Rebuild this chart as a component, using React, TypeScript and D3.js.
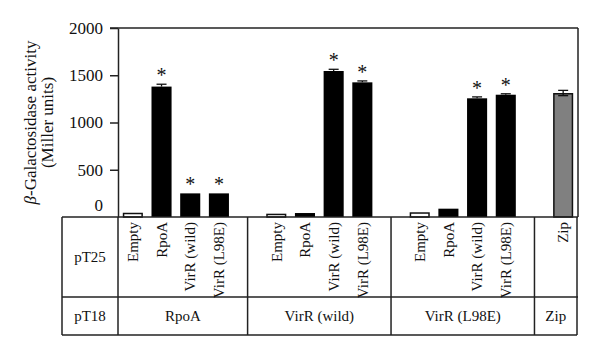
import React, { useEffect, useRef } from "react";
import * as d3 from "d3";

const pT25Labels = [
  "Empty", "RpoA", "VirR (wild)", "VirR (L98E)",
  "Empty", "RpoA", "VirR (wild)", "VirR (L98E)",
  "Empty", "RpoA", "VirR (wild)", "VirR (L98E)",
  "Zip",
];
const slotIndex = [0, 1, 2, 3, 5, 6, 7, 8, 10, 11, 12, 13, 15];
const values = [45, 1380, 250, 250, 35, 42, 1545, 1425, 50, 88, 1256, 1294, 1312];
const errors = [0, 25, 0, 0, 0, 0, 18, 15, 0, 0, 15, 10, 28];
const significant = [false, true, true, true, false, false, true, true, false, false, true, true, false];
const barKind = ["empty", "black", "black", "black", "empty", "black", "black", "black", "empty", "black", "black", "black", "gray"];
const pT18Groups = ["RpoA", "VirR (wild)", "VirR (L98E)", "Zip"];
const groupSlotRanges = [[-0.5, 4], [4, 9], [9, 14], [14, 15.5]];
const yTicks = [0, 500, 1000, 1500, 2000];

const W = 600, H = 357;
const left = 118, right = 578, top = 28, bottom = 217;
const tableLeft = 62, rowDiv = 297, tableBottom = 335;
const font = "'Liberation Serif', 'Times New Roman', serif";
const lineColor = "#222";

export default function App() {
  const axisRef = useRef<SVGGElement>(null);
  const x = d3.scaleBand<number>().domain(d3.range(16)).range([left + 0.5, right - 0.5]).paddingInner(0.3).paddingOuter(0.15);
  const y = d3.scaleLinear().domain([0, 2000]).range([bottom, top]);
  const cx = (s: number) => (x(Math.floor(s)) as number) + x.bandwidth() / 2 + (s - Math.floor(s)) * x.step();
  const slotX = (s: number) => {
    if (s <= -0.5) return left;
    if (s >= 15.5) return right - 1;
    return cx(s);
  };

  useEffect(() => {
    if (!axisRef.current) return;
    const g = d3.select(axisRef.current);
    g.selectAll("*").remove();
    g.call(d3.axisLeft(y).tickValues(yTicks).tickSize(8).tickPadding(7).tickSizeOuter(0).tickFormat(d3.format("d")));
    g.select(".domain").attr("stroke", lineColor).attr("stroke-width", 1.5);
    g.selectAll(".tick line").attr("stroke", lineColor).attr("stroke-width", 1.5);
    g.selectAll(".tick text").attr("font-family", font).attr("font-size", 17).attr("fill", "#111");
    g.selectAll<SVGGElement, number>(".tick").filter((d) => d === 0).select("line").remove();
    g.selectAll<SVGGElement, number>(".tick").filter((d) => d === 0).select("text").attr("dy", "-0.4em");
  }, []);

  return (
    <svg width={W} height={H} style={{ position: "absolute", left: 0, top: 0, background: "#fff" }}>
      {/* frame */}
      <line x1={left - 8} x2={right} y1={top} y2={top} stroke={lineColor} strokeWidth={1.5} />
      <line x1={right} x2={right} y1={top} y2={bottom} stroke={lineColor} strokeWidth={1.5} />
      <g ref={axisRef} transform={`translate(${left},0)`} />

      {/* y label */}
      <text transform={`translate(36,${(top + bottom) / 2}) rotate(-90)`} textAnchor="middle" fontFamily={font} fontSize={17} fill="#111">
        <tspan fontStyle="italic">β</tspan>-Galactosidase activity
      </text>
      <text transform={`translate(53,${(top + bottom) / 2}) rotate(-90)`} textAnchor="middle" fontFamily={font} fontSize={17} fill="#111">
        (Miller units)
      </text>

      {/* bars */}
      {values.map((v, i) => {
        const s = slotIndex[i];
        const bx = x(s) as number;
        const bw = x.bandwidth();
        const kind = barKind[i];
        const fill = kind === "empty" ? "#fff" : kind === "gray" ? "#808080" : "#000";
        const stroke = kind === "black" ? "none" : "#111";
        return (
          <g key={i}>
            <rect
              x={bx + (stroke !== "none" ? 0.75 : 0)}
              y={y(v) + (stroke !== "none" ? 0.75 : 0)}
              width={bw - (stroke !== "none" ? 1.5 : 0)}
              height={bottom - y(v) - (stroke !== "none" ? 0.75 : 0)}
              fill={fill}
              stroke={stroke}
              strokeWidth={1.5}
            />
            {errors[i] > 0 && (
              <g stroke="#111" strokeWidth={1.3}>
                <line x1={bx + bw / 2} x2={bx + bw / 2} y1={y(v + errors[i])} y2={kind === "gray" ? y(v - errors[i]) : y(v)} />
                <line x1={bx + bw / 2 - 5} x2={bx + bw / 2 + 5} y1={y(v + errors[i])} y2={y(v + errors[i])} />
                {kind === "gray" && (
                  <line x1={bx + bw / 2 - 5} x2={bx + bw / 2 + 5} y1={y(v - errors[i])} y2={y(v - errors[i])} />
                )}
              </g>
            )}
            {significant[i] && (
              <text x={bx + bw / 2} y={y(v + errors[i]) - 2} textAnchor="middle" fontFamily={font} fontSize={20} fill="#111">
                *
              </text>
            )}
          </g>
        );
      })}

      {/* table */}
      <g stroke={lineColor} strokeWidth={1.5} fill="none">
        <line x1={tableLeft} x2={right} y1={bottom} y2={bottom} />
        <line x1={tableLeft} x2={right} y1={rowDiv} y2={rowDiv} />
        <line x1={tableLeft} x2={right - 1} y1={tableBottom} y2={tableBottom} />
        <line x1={tableLeft} x2={tableLeft} y1={bottom} y2={tableBottom} />
        <line x1={left} x2={left} y1={bottom} y2={tableBottom} />
        <line x1={right - 1} x2={right - 1} y1={bottom} y2={tableBottom} />
        {groupSlotRanges.slice(1).map((r, i) => (
          <line key={i} x1={slotX(r[0])} x2={slotX(r[0])} y1={bottom} y2={tableBottom} />
        ))}
      </g>
      <text x={(tableLeft + left) / 2} y={(bottom + rowDiv) / 2} dy="0.35em" textAnchor="middle" fontFamily={font} fontSize={15} fill="#111">pT25</text>
      <text x={(tableLeft + left) / 2} y={(rowDiv + tableBottom) / 2} dy="0.35em" textAnchor="middle" fontFamily={font} fontSize={15} fill="#111">pT18</text>
      {pT25Labels.map((lab, i) => (
        <text
          key={i}
          transform={`translate(${cx(slotIndex[i])},${bottom + 5}) rotate(-90)`}
          dy="0.35em"
          textAnchor="end"
          fontFamily={font}
          fontSize={15}
          fill="#111"
        >
          {lab}
        </text>
      ))}
      {pT18Groups.map((lab, i) => (
        <text
          key={i}
          x={(slotX(groupSlotRanges[i][0]) + slotX(groupSlotRanges[i][1])) / 2}
          y={(rowDiv + tableBottom) / 2}
          dy="0.35em"
          textAnchor="middle"
          fontFamily={font}
          fontSize={15}
          fill="#111"
        >
          {lab}
        </text>
      ))}
    </svg>
  );
}
